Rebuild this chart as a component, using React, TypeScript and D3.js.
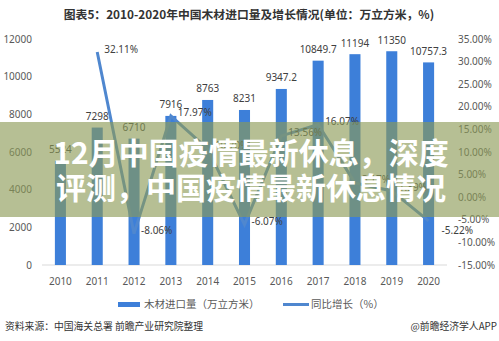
import React from "react";
import * as d3 from "d3";

const years = ["2010", "2011", "2012", "2013", "2014", "2015", "2016", "2017", "2018", "2019", "2020"];
const imports = [5524, 7298, 6710, 7916, 8763, 8231, 9347.2, 10849.7, 11194, 11350, 10757.3];
const importLabels = ["5524", "7298", "6710", "7916", "8763", "8231", "9347.2", "10849.7", "11194", "11350", "10757.3"];
const growthYears = ["2011", "2012", "2013", "2014", "2015", "2016", "2017", "2018", "2019", "2020"];
const growth = [32.11, -8.06, 17.97, 10.7, -6.07, 13.56, 16.07, 3.17, 1.39, -5.22];
const leftTicks = [0, 2000, 4000, 6000, 8000, 10000, 12000];
const rightTicks = [-15, -10, -5, 0, 5, 10, 15, 20, 25, 30, 35];

const title = "图表5：2010-2020年中国木材进口量及增长情况(单位：万立方米，%)";
const legend1 = "木材进口量（万立方米）";
const legend2 = "同比增长（%）";
const source = "资料来源：中国海关总署 前瞻产业研究院整理";
const credit = "@前瞻经济学人APP";
const bannerLines = ["12月中国疫情最新休息，深度", "评测，中国疫情最新休息情况"];

const W = 499;
const H = 341;
const FONT = "'Noto Sans', 'Noto Sans CJK SC', sans-serif";
const CJK = "'Noto Sans CJK SC', 'Noto Sans', sans-serif";

export default function App() {
  const x = d3.scaleBand<string>().domain(years).range([42, 447]).paddingInner(0.7).paddingOuter(0.35);
  const yL = d3.scaleLinear().domain([0, 12000]).range([265, 39]);
  const yR = d3.scaleLinear().domain([-15, 35]).range([265, 39]);
  const cx = (yr: string) => (x(yr) as number) + x.bandwidth() / 2;
  const line = d3
    .line<number>()
    .x((_, i) => cx(growthYears[i]))
    .y((d) => yR(d));

  return (
    <div style={{ position: "fixed", left: 0, top: 0, width: W, height: H, background: "#fff" }}>
      <svg width={W} height={H} style={{ display: "block" }}>
        <rect width={W} height={H} fill="#fff" />
        <text x={249} y={19} textAnchor="middle" fontFamily={CJK} fontWeight={700} fontSize={11.8} fill="#333">
          {title}
        </text>
        {leftTicks.map((t) => (
          <text key={"l" + t} x={32} y={yL(t)} dy="0.35em" textAnchor="end" fontFamily={FONT} fontSize={10} fill="#595959">
            {t}
          </text>
        ))}
        {rightTicks.map((t) => (
          <text key={"r" + t} x={458} y={yR(t)} dy="0.35em" textAnchor="start" fontFamily={FONT} fontSize={10} fill="#595959">
            {t.toFixed(2) + "%"}
          </text>
        ))}
        <line x1={42} x2={447} y1={265} y2={265} stroke="#d9d9d9" strokeWidth={1} />
        {years.map((yr) => (
          <text key={"x" + yr} x={cx(yr)} y={281} dy="0.35em" textAnchor="middle" fontFamily={FONT} fontSize={10} fill="#595959">
            {yr}
          </text>
        ))}
        {imports.map((v, i) => (
          <rect key={"b" + i} x={x(years[i])} y={yL(v)} width={x.bandwidth()} height={yL(0) - yL(v)} fill="#3d7fd9" />
        ))}
        {imports.map((v, i) => (
          <text key={"bl" + i} x={cx(years[i])} y={yL(v) - 11} dy="0.35em" textAnchor="middle" fontFamily={FONT} fontSize={10} fill="#404040">
            {importLabels[i]}
          </text>
        ))}
        <path d={line(growth) || ""} fill="none" stroke="#4f87cf" strokeWidth={3} />
        {growth.map((g, i) => {
          const last = i === growth.length - 1;
          return (
            <text
              key={"gl" + i}
              x={cx(growthYears[i]) + (last ? 13 : 7)}
              y={yR(g) + (last ? 10 : -3)}
              dy="0.35em"
              textAnchor="start"
              fontFamily={FONT}
              fontSize={10}
              fill="#404040"
            >
              {(g < 0 ? "-" : "") + Math.abs(g).toFixed(2) + "%"}
            </text>
          );
        })}
        <rect x={118} y={302} width={22} height={5} fill="#3d7fd9" />
        <text x={144} y={304.5} dy="0.35em" fontFamily={CJK} fontSize={10.5} fill="#595959">
          {legend1}
        </text>
        <line x1={283} x2={309} y1={304.5} y2={304.5} stroke="#4f87cf" strokeWidth={3} />
        <text x={311} y={304.5} dy="0.35em" fontFamily={CJK} fontSize={10.5} fill="#595959">
          {legend2}
        </text>
        <text x={5} y={330} fontFamily={CJK} fontSize={9.8} fill="#333">
          {source}
        </text>
        <text x={497} y={330} textAnchor="end" fontFamily={CJK} fontSize={9.8} fill="#333">
          {credit}
        </text>
        <rect x={0} y={122} width={W} height={95} fill="rgb(140,153,85)" fillOpacity={0.63} />
        {bannerLines.map((s, i) => (
          <text key={"bn" + i} x={251} y={164 + i * 35} textAnchor="middle" fontFamily={CJK} fontWeight={700} fontSize={30} fill="#fff">
            {s}
          </text>
        ))}
      </svg>
    </div>
  );
}
